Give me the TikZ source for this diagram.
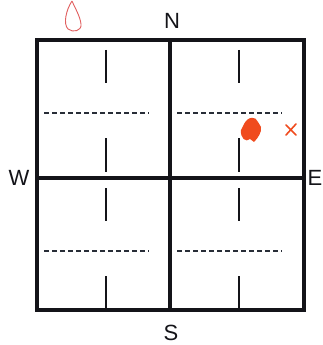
\documentclass[tikz,border=0pt]{standalone}
\usepackage{fontspec}
\setmainfont{Liberation Sans}
\definecolor{wallblack}{RGB}{20,20,25}
\definecolor{splitgray}{RGB}{40,45,55}
\definecolor{inkred}{RGB}{240,75,30}
\definecolor{looppink}{RGB}{225,95,95}
\tikzset{
  wall/.style={wallblack,line width=3.6pt,line cap=rect},
  tick/.style={wallblack,line width=1.8pt},
  split/.style={splitgray,line width=1.2pt,dash pattern=on 5pt off 3pt},
  compass/.style={font=\fontsize{22}{24}\selectfont,text=wallblack,inner sep=0pt}
}
\begin{document}
\begin{tikzpicture}[x=1pt,y=-1pt]
  \useasboundingbox[fill=white] (0,0) rectangle (322,345);

  % Outer square and the two middle walls.
  \draw[wall] (37,40) rectangle (304,310);
  \draw[wall] (170,40) -- (170,310);
  \draw[wall] (37,178) -- (304,178);

  % Each of the four cells: upper tick, dashed split, lower tick.
  \foreach \cx/\cy in {0/0,133/0,0/138,133/138} {
    \draw[tick] (106+\cx,50+\cy) -- (106+\cx,83+\cy);
    \draw[split] (44+\cx,113+\cy) -- (149+\cx,113+\cy);
    \draw[tick] (106+\cx,138+\cy) -- (106+\cx,172+\cy);
  }

  % Compass labels.
  \node[compass] (north) at (172,21) {N};
  \node[compass] (west) at (19,178) {W};
  \node[compass] (east) at (315,178) {E};
  \node[compass] (south) at (171,333) {S};

  % Hand-drawn marks in the north-east cell.
  \fill[inkred] (244,124) .. controls (248,116) and (256,116) .. (258,122)
    -- (261,127) .. controls (262,132) and (258,138) .. (254,142)
    -- (250,139) .. controls (246,143) and (240,138) .. (241,130) -- cycle;
  \draw[inkred,line width=1.6pt,line cap=round] (286,125) -- (296,135);
  \draw[inkred,line width=1.6pt,line cap=round] (296,124) -- (286,135);

  % Loop mark above the square.
  \draw[looppink,line width=0.9pt] (72,1) .. controls (66,10) and (63,24) .. (68,29)
    .. controls (73,33) and (82,31) .. (81,24)
    .. controls (80,16) and (75,8) .. (72,1);
\end{tikzpicture}
\end{document}
